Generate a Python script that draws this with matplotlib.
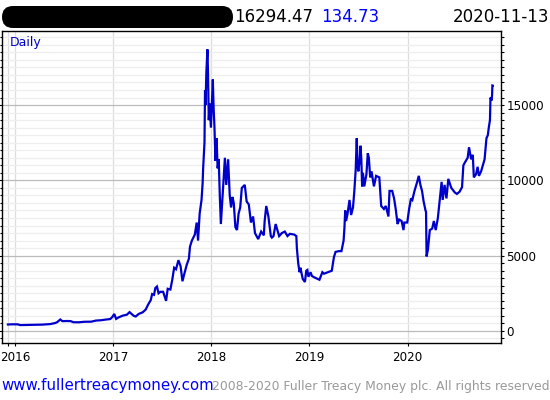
import matplotlib
matplotlib.use("Agg")
import matplotlib.pyplot as plt
import matplotlib.dates as mdates
from matplotlib.patches import FancyBboxPatch
from matplotlib.transforms import IdentityTransform
from matplotlib.ticker import FixedLocator, MultipleLocator, NullFormatter
import pandas as pd

dates = [
    "2015-12-05", "2015-12-20", "2016-01-10", "2016-01-20", "2016-02-15", "2016-03-10",
    "2016-04-10", "2016-05-10", "2016-05-28", "2016-06-05", "2016-06-17", "2016-06-25",
    "2016-07-10", "2016-07-25", "2016-08-05", "2016-08-25", "2016-09-15", "2016-10-10",
    "2016-10-28", "2016-11-15", "2016-12-05", "2016-12-20", "2016-12-28", "2017-01-04",
    "2017-01-11", "2017-01-20", "2017-02-05", "2017-02-20", "2017-03-02", "2017-03-10",
    "2017-03-18", "2017-03-25", "2017-04-05", "2017-04-20", "2017-05-01", "2017-05-10",
    "2017-05-20", "2017-05-25", "2017-06-01", "2017-06-06", "2017-06-12", "2017-06-18",
    "2017-06-25", "2017-07-05", "2017-07-16", "2017-07-22", "2017-08-01", "2017-08-08",
    "2017-08-15", "2017-08-22", "2017-08-31", "2017-09-08", "2017-09-15", "2017-09-22",
    "2017-10-01", "2017-10-09", "2017-10-13", "2017-10-20", "2017-10-31", "2017-11-07",
    "2017-11-12", "2017-11-18", "2017-11-25", "2017-11-29", "2017-12-01", "2017-12-06",
    "2017-12-08", "2017-12-10", "2017-12-13", "2017-12-17", "2017-12-19", "2017-12-22",
    "2017-12-25", "2017-12-30", "2018-01-06", "2018-01-09", "2018-01-12", "2018-01-16",
    "2018-01-20", "2018-01-24", "2018-01-28", "2018-02-01", "2018-02-05", "2018-02-10",
    "2018-02-15", "2018-02-20", "2018-02-25", "2018-03-04", "2018-03-10", "2018-03-15",
    "2018-03-20", "2018-03-25", "2018-03-31", "2018-04-06", "2018-04-12", "2018-04-18",
    "2018-04-24", "2018-05-05", "2018-05-12", "2018-05-20", "2018-05-28", "2018-06-05",
    "2018-06-12", "2018-06-24", "2018-07-05", "2018-07-15", "2018-07-18", "2018-07-24",
    "2018-08-01", "2018-08-10", "2018-08-14", "2018-08-20", "2018-08-28", "2018-09-10",
    "2018-09-20", "2018-10-01", "2018-10-11", "2018-10-20", "2018-11-05", "2018-11-13",
    "2018-11-15", "2018-11-20", "2018-11-25", "2018-11-28", "2018-12-07", "2018-12-15",
    "2018-12-20", "2018-12-24", "2018-12-28", "2019-01-05", "2019-01-10", "2019-01-20",
    "2019-02-01", "2019-02-07", "2019-02-18", "2019-02-24", "2019-03-10", "2019-03-25",
    "2019-04-02", "2019-04-08", "2019-04-20", "2019-04-30", "2019-05-08", "2019-05-11",
    "2019-05-14", "2019-05-17", "2019-05-22", "2019-05-30", "2019-06-05", "2019-06-12",
    "2019-06-17", "2019-06-22", "2019-06-26", "2019-06-29", "2019-07-02", "2019-07-07",
    "2019-07-10", "2019-07-13", "2019-07-16", "2019-07-19", "2019-07-24", "2019-08-01",
    "2019-08-06", "2019-08-10", "2019-08-15", "2019-08-20", "2019-08-29", "2019-09-06",
    "2019-09-18", "2019-09-25", "2019-10-05", "2019-10-12", "2019-10-22", "2019-10-26",
    "2019-11-05", "2019-11-12", "2019-11-18", "2019-11-25", "2019-12-01", "2019-12-10",
    "2019-12-17", "2019-12-20", "2019-12-31", "2020-01-07", "2020-01-14", "2020-01-19",
    "2020-01-27", "2020-02-06", "2020-02-12", "2020-02-18", "2020-02-24", "2020-03-01",
    "2020-03-08", "2020-03-10", "2020-03-12", "2020-03-17", "2020-03-24", "2020-04-02",
    "2020-04-08", "2020-04-15", "2020-04-23", "2020-04-30", "2020-05-07", "2020-05-11",
    "2020-05-18", "2020-05-25", "2020-06-01", "2020-06-12", "2020-06-25", "2020-07-03",
    "2020-07-13", "2020-07-22", "2020-07-27", "2020-08-02", "2020-08-12", "2020-08-17",
    "2020-08-25", "2020-08-31", "2020-09-04", "2020-09-12", "2020-09-18", "2020-09-23",
    "2020-10-01", "2020-10-09", "2020-10-14", "2020-10-21", "2020-10-26", "2020-10-30",
    "2020-11-03", "2020-11-05", "2020-11-09", "2020-11-11", "2020-11-12", "2020-11-13",
]
prices = [
    430, 440, 440, 390, 400, 415,
    420, 455, 520, 580, 760, 650,
    660, 655, 580, 575, 610, 615,
    690, 710, 760, 790, 930, 1130,
    800, 900, 1020, 1080, 1250, 1120,
    1000, 960, 1130, 1240, 1420, 1750,
    2050, 2450, 2400, 2850, 2950, 2500,
    2600, 2600, 2000, 2800, 2750, 3400,
    4200, 4100, 4700, 4300, 3300, 3800,
    4400, 4800, 5600, 6000, 6400, 7200,
    6000, 7800, 8700, 9800, 10800, 12500,
    16000, 15000, 17200, 18700, 17200, 14000,
    15100, 13500, 16700, 14800, 13600, 11300,
    12800, 10800, 11400, 9000, 7100, 8600,
    10000, 11500, 9700, 11400, 9000, 8200,
    8900, 8500, 6900, 6700, 7800, 8200,
    9500, 9700, 8600, 8400, 7200, 7600,
    6500, 6100, 6600, 6350, 7300, 8300,
    7600, 6300, 6200, 6300, 7100, 6300,
    6500, 6600, 6300, 6450, 6400, 6300,
    5500, 4500, 3900, 4200, 3450, 3250,
    4000, 4050, 3600, 3900, 3650, 3550,
    3450, 3400, 3900, 3800, 3900, 4000,
    4900, 5250, 5300, 5300, 6000, 6800,
    8000, 7300, 7700, 8700, 7700, 8200,
    9300, 10700, 12800, 11000, 10600, 11400,
    12300, 11400, 9600, 10500, 9600, 10400,
    11800, 11500, 10200, 10600, 9600, 10300,
    10200, 8300, 8100, 8300, 7600, 9300,
    9300, 8800, 8100, 7100, 7400, 7300,
    6700, 7200, 7200, 8100, 8800, 8700,
    9300, 9900, 10300, 9700, 9300, 8600,
    8000, 7900, 4950, 5400, 6700, 6800,
    7300, 6700, 7500, 8700, 9900, 8700,
    9700, 8800, 10100, 9500, 9200, 9100,
    9250, 9550, 11000, 11200, 11500, 12200,
    11400, 11700, 10200, 10400, 10900, 10300,
    10600, 11100, 11400, 12800, 13000, 13550,
    14000, 15500, 15300, 15700, 16300, 16294.47,
]
year_ticks = ["2016-01-01", "2017-01-01", "2018-01-01", "2019-01-01", "2020-01-01"]
year_labels = ["2016", "2017", "2018", "2019", "2020"]
y_ticks = [0, 5000, 10000, 15000]
last_close = "16294.47"
last_change = "134.73"
last_date = "2020-11-13"

W, H = 550, 400
fig = plt.figure(figsize=(W / 100, H / 100), dpi=100)
ax = fig.add_axes([2 / W, 1 - 343.3 / H, (500.7 - 2) / W, (343.3 - 31) / H])

x = pd.to_datetime(dates)
ax.plot(x, prices, color="#0000cc", lw=1.6, solid_joinstyle="miter")

ax.set_xlim(pd.Timestamp("2015-11-13"), pd.Timestamp("2020-12-13"))
ax.set_ylim(-820, 19920)

ax.xaxis.set_major_locator(FixedLocator(mdates.date2num(pd.to_datetime(year_ticks))))
ax.set_xticklabels(year_labels)
ax.xaxis.set_minor_locator(FixedLocator([mdates.date2num(pd.Timestamp("2015-12-05"))]))
ax.xaxis.set_minor_formatter(NullFormatter())

ax.yaxis.set_major_locator(FixedLocator(y_ticks))
ax.yaxis.set_minor_locator(MultipleLocator(500))
ax.yaxis.set_minor_formatter(NullFormatter())

ax.tick_params(axis="y", which="both", left=True, right=True, labelleft=False,
               labelright=True, direction="out", labelsize=8.6, pad=1.5, width=0.8)
ax.tick_params(axis="y", which="major", length=2.5)
ax.tick_params(axis="y", which="minor", length=1.8)
ax.tick_params(axis="x", which="both", direction="out", length=2.5, width=0.8,
               labelsize=8.6, pad=3)

ax.grid(which="major", axis="y", color="#bbbbbb", lw=0.9)
ax.grid(which="minor", axis="y", color="#eeeeee", lw=0.9)
ax.grid(which="both", axis="x", color="#dddddd", lw=0.9)
ax.set_axisbelow(True)
for s in ax.spines.values():
    s.set_color("black")
    s.set_linewidth(1.0)

# header
pill = FancyBboxPatch((2, H - 28), 231, 22, boxstyle="round,pad=0,rounding_size=11",
                      facecolor="black", edgecolor="none", transform=IdentityTransform())
fig.add_artist(pill)
fig.text(234 / W, 1 - 22 / H, last_close, fontsize=12, color="black", va="baseline")
fig.text(321 / W, 1 - 22 / H, last_change, fontsize=12, color="#0000ff", va="baseline")
fig.text(549 / W, 1 - 22 / H, last_date, fontsize=12, color="black", va="baseline", ha="right")

fig.text(10 / W, 1 - 45.7 / H, "Daily", fontsize=9, color="#0000cc", va="baseline")

fig.text(1 / W, 1 - 390 / H, "www.fullertreacymoney.com", fontsize=10.8,
         color="#0000ff", va="baseline")
fig.text(549 / W, 1 - 390 / H, "2008-2020 Fuller Treacy Money plc. All rights reserved",
         fontsize=8.9, color="#999999", va="baseline", ha="right")

fig.savefig("out.png", dpi=100)
